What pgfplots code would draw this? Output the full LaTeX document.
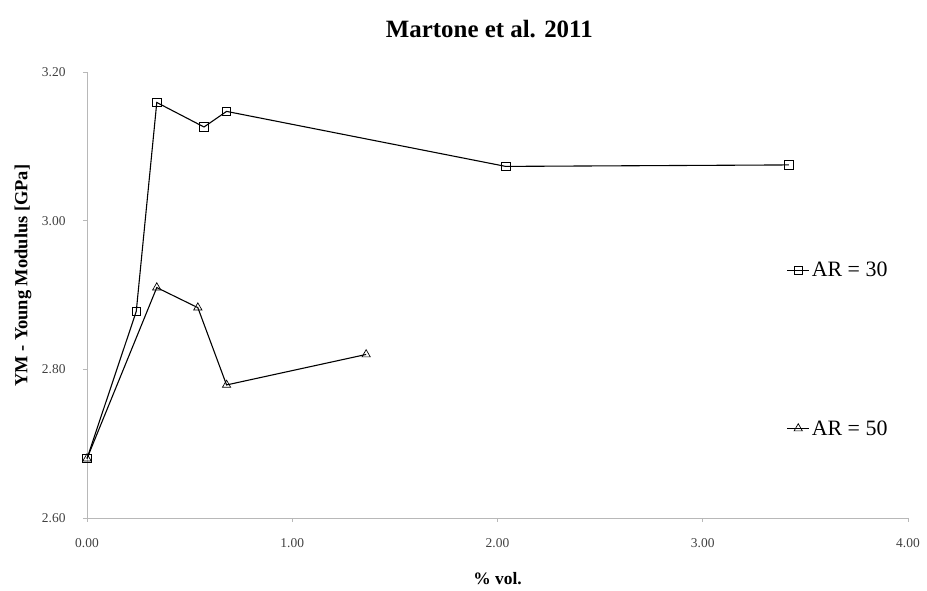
\documentclass[border=0pt]{standalone}
\usepackage{fontspec}
\setmainfont{Liberation Serif}
\usepackage{pgfplots}
\pgfplotsset{compat=1.18}

\begin{document}
\begin{tikzpicture}
\path[use as bounding box] (0,0) rectangle (927bp,591bp);
\begin{axis}[
    at={(87bp,73bp)}, anchor=south west,
    scale only axis,
    width=821bp, height=446bp,
    xmin=0, xmax=4, ymin=2.6, ymax=3.2,
    xtick={0,1,2,3,4},
    ytick={2.6,2.8,3.0,3.2},
    axis lines=left,
    axis line style={-, draw=black!28, line width=0.8pt},
    tick style={draw=black!28, line width=0.8pt},
    tick align=outside,
    major tick length=4bp,
    clip=false,
    /pgf/number format/assume math mode=true,
    /pgf/number format/.cd, fixed, fixed zerofill, precision=2,
    /pgfplots/.cd,
    ticklabel style={font=\fontsize{13.5}{15}\selectfont, text=black!75},
    xticklabel style={yshift=-13bp},
    yticklabel style={xshift=-14bp},
    title={\textbf{Martone et al. 2011}},
    title style={font=\fontsize{25}{28}\selectfont, at={(axis description cs:0.49,1.083)}, anchor=center},
    xlabel={\textbf{\% vol.}},
    xlabel style={font=\fontsize{17.5}{19}\selectfont, at={(axis description cs:0.5,-0.136)}, anchor=center},
    ylabel={\textbf{YM - Young Modulus [GPa]}},
    ylabel style={font=\fontsize{18.5}{20}\selectfont, at={(axis description cs:-0.078,0.543)}, anchor=center},
    legend style={draw=none, fill=none, at={(axis description cs:0.852,0.578)}, anchor=north west,
        font=\fontsize{22}{24}\selectfont, row sep=138bp, inner sep=0pt},
    legend cell align=left,
    legend image code/.code={\draw[mark repeat=2,mark phase=2] plot coordinates {(0bp,0bp)(11bp,0bp)(22bp,0bp)};},
]
\addplot[black, line width=1.1pt, mark=square, mark size=4.2bp, mark options={fill=white, line width=0.7pt}]
coordinates {(0,2.68)(0.24,2.878)(0.34,3.159)(0.57,3.126)(0.68,3.147)(2.04,3.073)(3.42,3.075)};
\addlegendentry{AR = 30}
\addplot[black, line width=1.1pt, mark=triangle, mark size=4.8bp, mark options={fill=white, line width=0.7pt}]
coordinates {(0,2.68)(0.34,2.91)(0.54,2.883)(0.68,2.779)(1.36,2.82)};
\addlegendentry{AR = 50}
\end{axis}
\end{tikzpicture}
\end{document}
